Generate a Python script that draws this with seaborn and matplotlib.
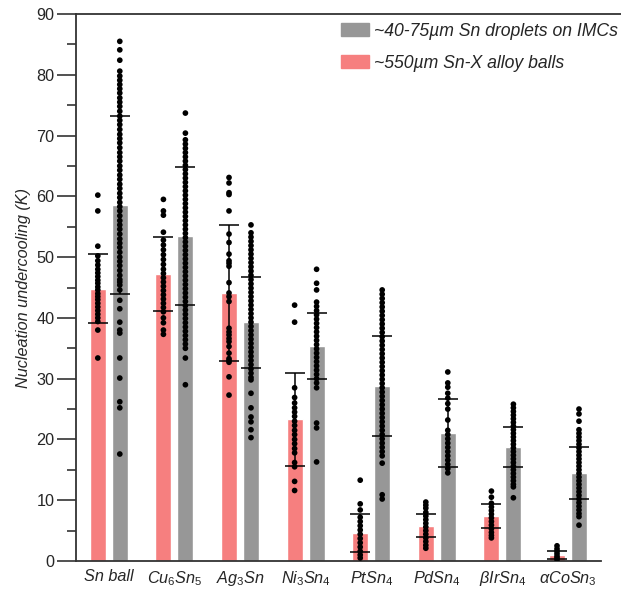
import numpy as np
import pandas as pd
import matplotlib.pyplot as plt
from matplotlib.patches import Patch
import seaborn as sns

sns.set_style("white")
plt.rcParams["font.family"] = ["Liberation Sans", "DejaVu Sans"]
plt.rcParams["mathtext.fontset"] = "custom"
plt.rcParams["mathtext.it"] = "Liberation Sans:italic"
plt.rcParams["mathtext.rm"] = "Liberation Sans"

categories = ["Sn ball", "Cu6Sn5", "Ag3Sn", "Ni3Sn4", "PtSn4", "PdSn4", "bIrSn4", "aCoSn3"]
tick_labels = ["Sn ball", r"$\mathit{Cu_6Sn_5}$", r"$\mathit{Ag_3Sn}$", r"$\mathit{Ni_3Sn_4}$",
               r"$\mathit{PtSn_4}$", r"$\mathit{PdSn_4}$", r"$\mathit{\beta IrSn_4}$",
               r"$\mathit{\alpha CoSn_3}$"]
ball_label = "~550µm Sn-X alloy balls"
drop_label = "~40-75µm Sn droplets on IMCs"

ball_mean = [44.8, 47.2, 44.1, 23.3, 4.6, 5.8, 7.4, 1.0]
ball_sd = [5.7, 6.1, 11.2, 7.6, 3.2, 1.9, 1.95, 0.6]
drop_mean = [58.6, 53.5, 39.3, 35.4, 28.8, 21.1, 18.8, 14.5]
drop_sd = [14.6, 11.3, 7.5, 5.4, 8.2, 5.6, 3.3, 4.3]

# individual measurements (K)
ball_sn = [60.2, 57.6, 51.8, 50.2, 49.4, 48.7, 48.0, 47.4, 46.8, 46.2, 45.7, 45.1, 44.6, 44.0,
           43.5, 43.0, 42.4, 41.8, 41.2, 40.6, 40.0, 39.4, 38.0, 33.4]
drop_sn = [85.5, 84.1, 82.4, 80.6, 79.8, 79.1, 78.4, 77.7, 77.0, 76.2, 75.5, 74.8, 74.0, 73.2,
           72.5, 71.8, 71.0, 70.2, 69.5, 68.8, 68.0, 67.2, 66.5, 65.8, 65.0, 64.3, 63.5, 62.8,
           62.0, 61.3, 60.5, 59.8, 59.0, 58.3, 57.6, 56.8, 56.0, 55.3, 54.6, 53.8, 53.0, 52.3,
           51.6, 50.8, 50.0, 49.3, 48.6, 47.8, 47.0, 46.3, 45.9, 45.4, 44.6, 42.9, 41.5, 39.3,
           38.0, 37.5, 33.4, 30.1, 26.2, 25.2, 17.6]
ball_cu = [59.5, 57.6, 56.9, 54.1, 52.8, 52.0, 51.2, 50.4, 49.6, 48.8, 48.0, 47.3, 46.6, 45.9,
           45.2, 44.5, 43.8, 43.1, 42.4, 41.7, 41.0, 40.0, 39.2, 38.0, 37.3]
drop_cu = [73.7, 70.4, 69.3, 68.6, 67.9, 67.2, 66.5, 65.8, 65.1, 64.4, 63.7, 63.0, 62.3, 61.6,
           60.9, 60.2, 59.5, 58.8, 58.1, 57.4, 56.7, 56.0, 55.3, 54.6, 53.9, 53.2, 52.5, 51.8,
           51.1, 50.4, 49.7, 49.0, 48.3, 47.6, 46.9, 46.2, 45.5, 44.8, 44.1, 43.4, 42.7, 42.0,
           41.3, 40.6, 39.9, 39.2, 38.5, 37.8, 37.1, 36.4, 35.7, 35.0, 33.4, 29.0]
ball_ag = [63.1, 62.2, 60.6, 60.3, 57.6, 53.8, 52.4, 50.5, 49.4, 49.0, 48.5, 45.8, 44.1, 43.5,
           42.7, 38.3, 37.7, 37.2, 36.6, 36.1, 35.3, 34.2, 33.3, 33.0, 32.7, 30.3, 27.3]
drop_ag = [55.3, 54.0, 53.3, 52.6, 51.9, 51.2, 50.5, 49.8, 49.1, 48.4, 47.7, 47.0, 46.3, 45.6,
           44.9, 44.2, 43.5, 42.8, 42.1, 41.4, 40.7, 40.0, 39.3, 38.6, 37.9, 37.2, 36.5, 35.8,
           35.1, 34.4, 33.7, 33.0, 32.3, 31.6, 30.9, 30.2, 29.8, 27.6, 25.2, 23.7, 22.9, 21.6, 20.3]
ball_ni = [42.1, 39.3, 28.5, 26.9, 26.0, 25.2, 24.5, 23.8, 23.0, 22.3, 21.5, 20.8, 20.0, 19.3,
           18.5, 17.8, 16.2, 15.5, 13.1, 11.6]
drop_ni = [48.0, 45.7, 44.6, 42.6, 41.9, 41.2, 40.5, 39.8, 39.1, 38.4, 37.7, 37.0, 36.3, 35.6,
           34.9, 34.2, 33.5, 32.8, 32.1, 31.4, 30.7, 30.0, 29.3, 28.5, 22.7, 21.9, 16.3]
ball_pt = [13.3, 9.4, 8.4, 7.2, 6.5, 5.8, 5.1, 4.4, 3.7, 3.0, 2.3, 1.6, 1.0, 0.5]
drop_pt = [44.6, 43.9, 43.2, 42.5, 41.8, 41.1, 40.4, 39.7, 39.0, 38.3, 37.6, 36.9, 36.2, 35.5,
           34.8, 34.1, 33.4, 32.7, 32.0, 31.3, 30.6, 29.9, 29.2, 28.5, 27.8, 27.1, 26.4, 25.7,
           25.0, 24.3, 23.6, 22.9, 22.2, 21.5, 20.8, 20.1, 19.4, 18.7, 18.0, 17.3, 16.1, 10.9, 10.2]
ball_pd = [9.7, 9.2, 8.7, 8.0, 7.4, 6.8, 6.2, 5.6, 5.0, 4.4, 3.8, 3.2, 2.6, 2.1]
drop_pd = [31.1, 29.3, 28.6, 27.6, 26.8, 25.9, 25.0, 23.2, 21.5, 20.8, 20.1, 19.4, 18.7, 18.0,
           17.3, 16.6, 15.9, 15.2, 14.5]
ball_ir = [11.5, 10.5, 9.5, 8.9, 8.3, 7.7, 7.1, 6.5, 5.9, 5.3, 4.7, 4.2, 3.8]
drop_ir = [25.8, 25.2, 24.6, 24.0, 23.4, 22.8, 22.2, 21.6, 21.0, 20.4, 19.8, 19.2, 18.6, 18.0,
           17.4, 16.8, 16.2, 15.6, 15.0, 14.4, 13.8, 13.2, 12.6, 12.2, 10.4]
ball_co = [2.5, 2.0, 1.6, 1.2, 0.8, 0.5, 0.2]
drop_co = [25.0, 24.2, 23.0, 21.6, 21.0, 20.4, 19.8, 19.2, 18.6, 18.0, 17.4, 16.8, 16.2, 15.6,
           15.0, 14.4, 13.8, 13.2, 12.6, 12.0, 11.4, 10.8, 10.2, 9.6, 9.0, 8.4, 7.8, 7.3, 5.9]

ball_points = [ball_sn, ball_cu, ball_ag, ball_ni, ball_pt, ball_pd, ball_ir, ball_co]
drop_points = [drop_sn, drop_cu, drop_ag, drop_ni, drop_pt, drop_pd, drop_ir, drop_co]

hues = [ball_label, drop_label]
colors = {ball_label: "#f67f7f", drop_label: "#979797"}

summary = pd.DataFrame({
    "cat": categories * 2,
    "group": [ball_label] * 8 + [drop_label] * 8,
    "mean": ball_mean + drop_mean,
    "sd": ball_sd + drop_sd,
})
rows = []
for cat, vals in zip(categories, ball_points):
    rows += [(cat, ball_label, v) for v in vals]
for cat, vals in zip(categories, drop_points):
    rows += [(cat, drop_label, v) for v in vals]
points = pd.DataFrame(rows, columns=["cat", "group", "value"])

fig = plt.figure(figsize=(6.21, 5.94), dpi=100)
ax = fig.add_axes([76 / 621, 33 / 594, 545 / 621, 547 / 594])

sns.barplot(data=summary, x="cat", y="mean", hue="group", hue_order=hues, order=categories,
            palette=colors, errorbar=None, width=0.67, gap=0.27, legend=False,
            saturation=1, ax=ax, zorder=1)

for cont, means, sds in zip(ax.containers, [ball_mean, drop_mean], [ball_sd, drop_sd]):
    xs = [p.get_x() + p.get_width() / 2 for p in cont]
    ax.errorbar(xs, means, yerr=sds, fmt="none", ecolor="black", elinewidth=1.1,
                capsize=7, capthick=1.1, zorder=3)

n_before = len(ax.collections)
sns.stripplot(data=points, x="cat", y="value", hue="group", hue_order=hues, order=categories,
              palette={ball_label: "black", drop_label: "black"}, dodge=True, jitter=False,
              size=4.1, linewidth=0, legend=False, ax=ax, zorder=4)
# line the dots up with the bar centres
for coll in ax.collections[n_before:]:
    off = coll.get_offsets()
    if len(off) == 0:
        continue
    base = np.round(off[:, 0])
    off[:, 0] = base + np.sign(off[:, 0] - base) * 0.1675
    coll.set_offsets(off)

ax.set_xlim(-0.5, -0.5 + 545 / 65.6)
ax.set_ylim(0, 90)
ax.set_yticks(np.arange(0, 91, 10))
ax.set_yticks(np.arange(5, 90, 10), minor=True)
ax.set_xticks(range(len(categories)))
ax.set_xticklabels(tick_labels, fontsize=11.7, style="italic")
ax.tick_params(axis="y", which="major", left=True, length=13.5, width=1.2, labelsize=11.7,
               color="#333333", pad=2)
ax.tick_params(axis="y", which="minor", left=True, length=6.5, width=1.2, color="#333333")
ax.tick_params(axis="x", length=0, pad=6)
ax.set_xlabel("")
ax.set_ylabel("Nucleation undercooling (K)", fontsize=11.7, style="italic", labelpad=4)

for side in ["left", "bottom", "top"]:
    ax.spines[side].set_linewidth(1.3)
    ax.spines[side].set_color("#333333")
ax.spines["right"].set_visible(False)
ax.spines["bottom"].set_bounds(-0.5, 7.5)

handles = [Patch(color=colors[drop_label]), Patch(color=colors[ball_label])]
fig.legend(handles, [drop_label, ball_label], loc="upper right",
           bbox_to_anchor=(0.995, 0.962), frameon=False, prop={"size": 12.7, "style": "italic"},
           handlelength=1.6, handleheight=0.75, handletextpad=0.25, labelspacing=0.85,
           borderpad=0, borderaxespad=0)

fig.savefig("out.png", dpi=100)
